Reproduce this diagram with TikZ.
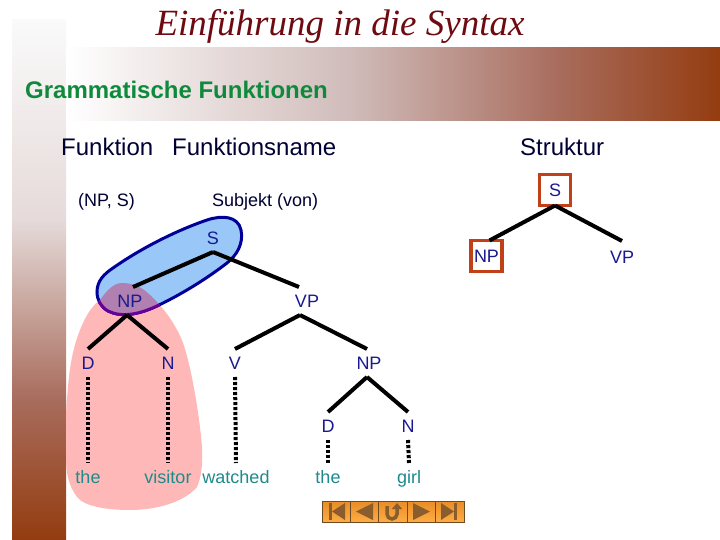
\documentclass[tikz,border=0pt]{standalone}
\usepackage{fontspec}
\setmainfont{Liberation Sans}
\newfontfamily\headfont{Liberation Serif}
\usetikzlibrary{calc}
\usetikzlibrary{arrows.meta}
\usepackage{xcolor}
\definecolor{brickred}{HTML}{C04018}
\definecolor{navytext}{HTML}{1A1A90}
\definecolor{tealtext}{HTML}{1F8A8A}
\definecolor{greentext}{HTML}{0F8A3C}
\definecolor{darkhead}{HTML}{6E0A10}
\definecolor{bandend}{HTML}{943C10}
\definecolor{bandmid}{HTML}{D0BCBA}
\definecolor{bandlow}{HTML}{A86C5C}
\definecolor{pinkblob}{HTML}{FFB8B8}
\definecolor{blueblob}{HTML}{99C8F8}
\definecolor{overlap}{HTML}{B080B0}
\definecolor{navtop}{HTML}{E88C28}
\definecolor{navbot}{HTML}{FFAC44}
\definecolor{navicon}{HTML}{8A5E2C}
\begin{document}
\begin{tikzpicture}[x=1pt,y=-1pt,
  catnode/.style={text=navytext,font=\fontsize{18}{20}\selectfont,inner sep=0pt,outer sep=0pt,text height=13pt,text depth=0pt,minimum height=28pt},
  wordnode/.style={text=tealtext,font=\fontsize{18}{20}\selectfont,inner sep=0pt,outer sep=0pt,text height=13pt,text depth=0pt,minimum height=28pt},
  headnode/.style={text=black!80!blue,font=\fontsize{24}{26}\selectfont,inner sep=0pt,text height=17pt,text depth=0pt},
  smallhead/.style={text=black!80!blue,font=\fontsize{18}{20}\selectfont,inner sep=0pt,text height=13pt,text depth=0pt},
  redbox/.style={draw=brickred,line width=3.5pt,minimum width=31pt,minimum height=31pt},
  branch/.style={black,line width=4pt},
  dotline/.style={black,line width=4pt,dash pattern=on 3.2pt off 1.8pt},
  navbox/.style={draw=navicon!80!black,line width=.8pt,top color=navtop,bottom color=navbot},
  navmark/.style={fill=navicon}]
\useasboundingbox (0,0) rectangle (720,540);
\fill[white] (0,0) rectangle (720,540);

\fill[top color=white!98!black,bottom color=bandmid!55!white] (12,20) rectangle (66,220);
\fill[top color=bandmid!55!white,bottom color=bandlow] (12,220) rectangle (66,400);
\fill[top color=bandlow,bottom color=bandend] (12,400) rectangle (66,540);
\fill[left color=white,right color=bandmid] (66,48) rectangle (350,121);
\fill[left color=bandmid,right color=bandlow] (350,48) rectangle (560,121);
\fill[left color=bandlow,right color=bandend] (560,48) rectangle (720,121);

\node[text=darkhead,font=\headfont\itshape\fontsize{37}{38}\selectfont,inner sep=0pt] (kopf) at (340,26) {Einführung in die Syntax};
\node[text=greentext,font=\bfseries\fontsize{24}{26}\selectfont,inner sep=0pt,anchor=west,text height=17pt,text depth=0pt] (titel) at (25,90) {Grammatische Funktionen};
\node[headnode,anchor=west] (funktion) at (61,147) {Funktion};
\node[headnode,anchor=west] (fname) at (172,147) {Funktionsname};
\node[headnode,anchor=west] (struktur) at (520,147) {Struktur};
\node[smallhead,anchor=west] (paar) at (78,200) {(NP, S)};
\node[smallhead,anchor=west] (subjekt) at (212,200) {Subjekt (von)};

\def\pinkpath{(122,283) .. controls (134,283) and (143,288) .. (150,295)
  .. controls (166,310) and (177,327) .. (183,343)
  .. controls (190,362) and (199,410) .. (202,447)
  .. controls (203,465) and (201,478) .. (197,487)
  .. controls (183,503) and (155,510) .. (130,510)
  .. controls (105,510) and (84,506) .. (77,497)
  .. controls (68,485) and (66,472) .. (66,457)
  .. controls (66,420) and (66,405) .. (67,400)
  .. controls (69,370) and (72,350) .. (80,330)
  .. controls (86,315) and (92,306) .. (100,300)
  .. controls (107,290) and (114,283) .. (122,283) -- cycle}
\def\bluepath{(97,292) .. controls (97,281) and (104,274) .. (113,268)
  .. controls (140,249) and (175,231) .. (207,220)
  .. controls (222,215) and (238,216) .. (241,230)
  .. controls (244,244) and (236,256) .. (227,263)
  .. controls (205,280) and (180,295) .. (157,306)
  .. controls (140,314) and (122,318) .. (108,311)
  .. controls (101,307) and (97,300) .. (97,292) -- cycle}
\fill[pinkblob] \pinkpath;
\draw[draw=blue!60!black,line width=3pt,fill=blueblob] \bluepath;
\begin{scope}
\clip \pinkpath;
\draw[draw=violet!80!blue,line width=3pt,fill=overlap] \bluepath;
\end{scope}

\node[catnode] (s) at (213,238) {S};
\node[catnode] (np) at (130,301) {NP};
\node[catnode] (vp) at (307,301) {VP};
\node[catnode] (d) at (88,363) {D};
\node[catnode] (n) at (168,363) {N};
\node[catnode] (v) at (235,363) {V};
\node[catnode] (npb) at (369,363) {NP};
\node[catnode] (db) at (328,426) {D};
\node[catnode] (nb) at (408,426) {N};
\node[wordnode] (the) at (88,477) {the};
\node[wordnode] (visitor) at (168,477) {visitor};
\node[wordnode] (watched) at (236,477) {watched};
\node[wordnode] (theb) at (328,477) {the};
\node[wordnode] (girl) at (409,477) {girl};

\draw[branch] (s.south) -- ([xshift=3pt]np.north);
\draw[branch] (s.south) -- ([xshift=-8pt]vp.north);
\draw[branch] ([xshift=-3pt]np.south) -- (d.north);
\draw[branch] ([xshift=-3pt]np.south) -- (n.north);
\draw[branch] ([xshift=-7pt]vp.south) -- (v.north);
\draw[branch] ([xshift=-7pt]vp.south) -- ([xshift=-2pt]npb.north);
\draw[branch] ([xshift=-2pt]npb.south) -- (db.north);
\draw[branch] ([xshift=-2pt]npb.south) -- (nb.north);
\draw[dotline] (d.south) -- (the.north);
\draw[dotline] (n.south) -- (visitor.north);
\draw[dotline] (v.south) -- (watched.north);
\draw[dotline] (db.south) -- (theb.north);
\draw[dotline] (nb.south) -- (girl.north);

\node[catnode,redbox] (rs) at (555,190) {S};
\node[catnode,redbox] (rnp) at (486.5,256) {NP};
\node[catnode,minimum height=32pt] (rvp) at (622,257) {VP};
\draw[branch] (rs.south) -- ([xshift=3pt]rnp.north);
\draw[branch] (rs.south) -- (rvp.north);

\foreach \i in {0,...,4}
  \draw[navbox] ({322+28.4*\i},501) rectangle ({322+28.4*(\i+1)},522);
\fill[navmark] (329,503) rectangle (332,520);
\fill[navmark] (332,511.5) -- (345,503) -- (345,520) -- cycle;
\fill[navmark] (356,511.5) -- (373,503) -- (373,520) -- cycle;
\draw[navicon,line width=3.5pt,-{Triangle[length=6pt,width=10pt]}] (387,506) -- (387,514) arc[start angle=180,end angle=0,x radius=5pt,y radius=-5pt] -- (397,503);
\fill[navmark] (413,503) -- (430,511.5) -- (413,520) -- cycle;
\fill[navmark] (441,503) -- (454,511.5) -- (441,520) -- cycle;
\fill[navmark] (454,503) rectangle (457,520);
\end{tikzpicture}
\end{document}
